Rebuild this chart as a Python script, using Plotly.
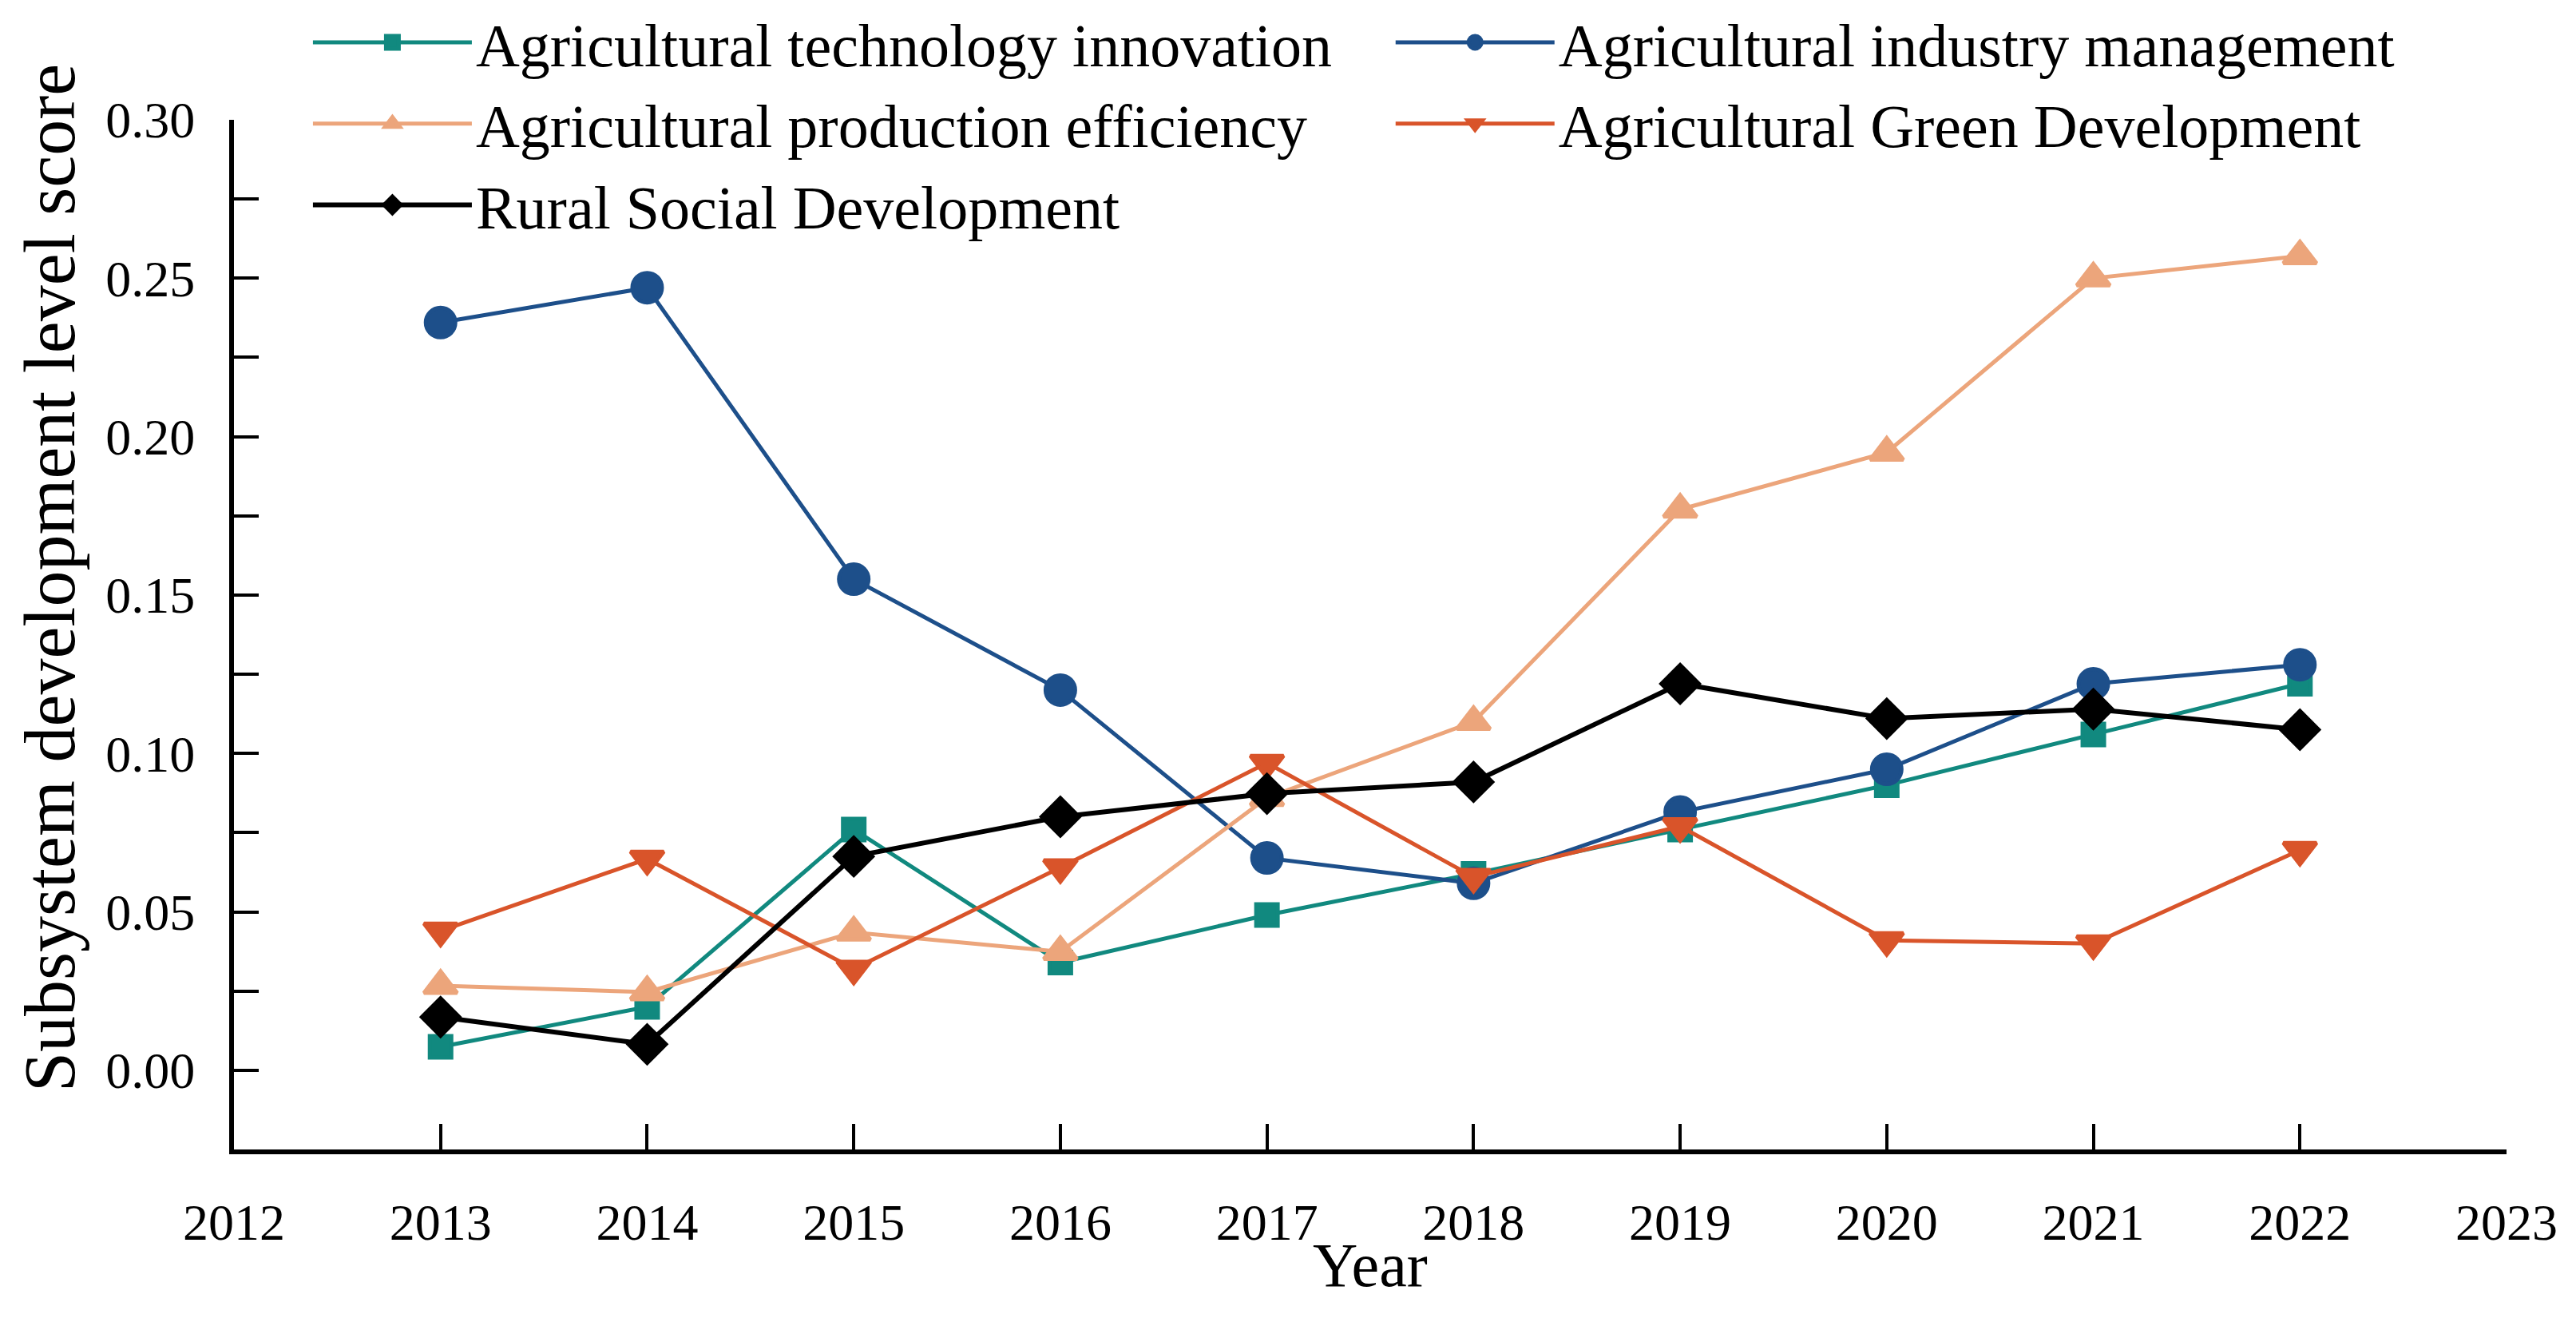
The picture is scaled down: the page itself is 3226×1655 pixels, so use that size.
import plotly.graph_objects as go

years = [2013, 2014, 2015, 2016, 2017, 2018, 2019, 2020, 2021, 2022]

tech_innovation = [0.0074, 0.020, 0.076, 0.034, 0.049, 0.062, 0.076, 0.090, 0.106, 0.122]
industry_mgmt = [0.236, 0.247, 0.155, 0.120, 0.067, 0.059, 0.0815, 0.095, 0.122, 0.128]
production_eff = [0.0267, 0.0247, 0.0435, 0.0374, 0.086, 0.110, 0.177, 0.195, 0.250, 0.257]
green_dev = [0.044, 0.0667, 0.032, 0.064, 0.097, 0.061, 0.077, 0.041, 0.040, 0.0695]
rural_social = [0.0168, 0.0082, 0.0675, 0.080, 0.0873, 0.091, 0.122, 0.111, 0.114, 0.1075]

# name, values, colour, marker symbol, marker size, line width
series = [
    ("Agricultural technology innovation", tech_innovation, "#11897f", "square", 27, 5),
    ("Agricultural industry management", industry_mgmt, "#1d4f8a", "circle", 37, 5),
    ("Agricultural production efficiency", production_eff, "#eca57b", "triangle-up", 36, 5),
    ("Agricultural Green Development", green_dev, "#d9542a", "triangle-down", 36, 5),
    ("Rural Social Development", rural_social, "#000000", "diamond", 36, 6),
]

FONT = "Liberation Serif"

fig = go.Figure()
for name, vals, color, sym, size, lw in series:
    fig.add_trace(go.Scatter(
        x=years, y=vals, name=name, mode="lines+markers",
        line=dict(color=color, width=lw),
        marker=dict(symbol=sym, size=size, color=color, line=dict(width=5, color=color)),
    ))

# margins allow for the 8px body margin of the html page
fig.update_layout(
    width=3226, height=1655,
    margin=dict(l=285, r=95, t=142, b=224, autoexpand=False),
    paper_bgcolor="white", plot_bgcolor="white",
    font=dict(family=FONT, color="black", size=64),
    showlegend=True,
    legend=dict(
        orientation="h", x=0.033, xanchor="left",
        yref="paper", y=1.1187, yanchor="top",
        font=dict(family=FONT, size=76),
        entrywidth=0.4764, entrywidthmode="fraction",
        itemwidth=199, bgcolor="rgba(0,0,0,0)",
    ),
    annotations=[
        dict(text="Subsystem development level score", textangle=-90,
             xref="paper", yref="paper", x=-0.081, y=0.555,
             xanchor="center", yanchor="middle", showarrow=False,
             font=dict(family=FONT, size=90)),
        dict(text="Year", xref="paper", yref="paper", x=0.5, y=-0.112,
             xanchor="center", yanchor="middle", showarrow=False,
             font=dict(family=FONT, size=78)),
    ],
)

fig.update_xaxes(
    range=[2012, 2023], tickmode="linear", tick0=2012, dtick=1,
    showline=True, linecolor="black", linewidth=6, mirror=False,
    ticks="inside", ticklen=32, tickwidth=4, tickcolor="black",
    tickfont=dict(family=FONT, size=64), ticklabelstandoff=30,
    showgrid=False, zeroline=False,
)
fig.update_yaxes(
    range=[-0.025, 0.30], tickmode="linear", tick0=0, dtick=0.05, tickformat=".2f",
    showline=True, linecolor="black", linewidth=6, mirror=False,
    ticks="inside", ticklen=31, tickwidth=4, tickcolor="black",
    minor=dict(ticks="inside", dtick=0.025, tick0=0, ticklen=31, tickwidth=4, tickcolor="black"),
    tickfont=dict(family=FONT, size=64), ticklabelstandoff=30,
    showgrid=False, zeroline=False,
)

fig.write_html("out.html")
